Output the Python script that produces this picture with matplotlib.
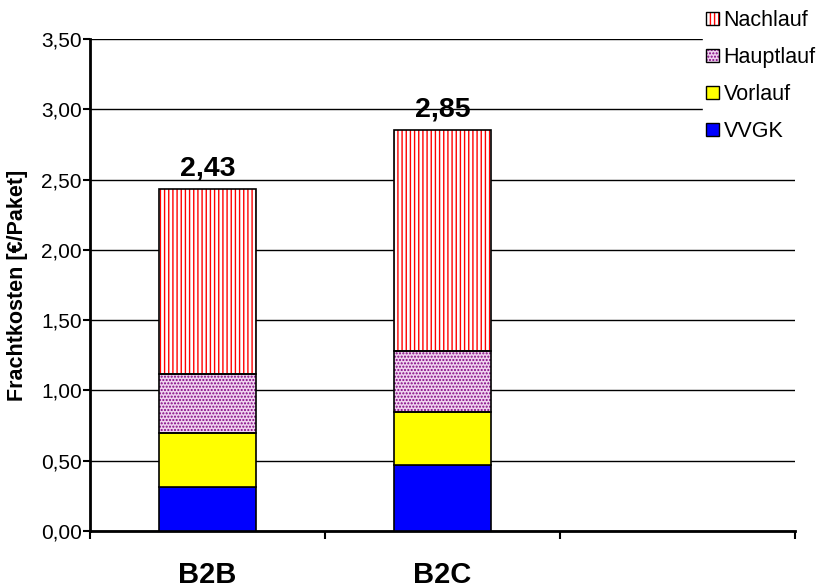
import matplotlib
matplotlib.use("Agg")
import matplotlib.pyplot as plt
from matplotlib.patches import Patch
from matplotlib.ticker import FuncFormatter, MultipleLocator

plt.rcParams['font.family'] = ['Liberation Sans', 'DejaVu Sans']
plt.rcParams['hatch.linewidth'] = 1.0

categories = ["B2B", "B2C", ""]
vvgk = [0.31, 0.47]
vorlauf = [0.39, 0.38]
hauptlauf = [0.42, 0.43]
nachlauf = [1.31, 1.57]
totals = [2.43, 2.85]

series = [
    ("VVGK", vvgk, dict(facecolor="#0000FF")),
    ("Vorlauf", vorlauf, dict(facecolor="#FFFF00")),
    ("Hauptlauf", hauptlauf, dict(facecolor="#EFD3EF", hatch=".....", hatchcol="#800080")),
    ("Nachlauf", nachlauf, dict(facecolor="white", hatch="||||", hatchcol="#FF0000")),
]

fig = plt.figure(figsize=(8.2, 5.88), dpi=100)
ax = fig.add_axes([90 / 820, 57 / 588, 705 / 820, 492 / 588])

x = list(range(len(totals)))
width = 0.41
bottom = [0.0] * len(totals)
handles = []
for name, vals, st in series:
    if "hatch" in st:
        ax.bar(x, vals, width, bottom=bottom, facecolor=st["facecolor"],
               edgecolor=st["hatchcol"], hatch=st["hatch"], linewidth=0, zorder=3)
        ax.bar(x, vals, width, bottom=bottom, fill=False,
               edgecolor="black", linewidth=1.2, zorder=4)
        h = (Patch(facecolor=st["facecolor"], edgecolor=st["hatchcol"],
                   hatch=st["hatch"], linewidth=0),
             Patch(fill=False, edgecolor="black", linewidth=1.0))
    else:
        ax.bar(x, vals, width, bottom=bottom, color=st["facecolor"],
               edgecolor="black", linewidth=1.2, zorder=4)
        h = Patch(facecolor=st["facecolor"], edgecolor="black", linewidth=1.0)
    handles.append((h, name))
    bottom = [b + v for b, v in zip(bottom, vals)]

for xi, t in zip(x, totals):
    ax.text(xi, t + 0.1, f"{t:.2f}".replace(".", ","), ha="center", va="baseline",
            fontsize=20.5, fontweight="bold", zorder=5)

ax.set_xlim(-0.5, 2.5)
ax.set_ylim(0, 3.5)
ax.yaxis.set_major_locator(MultipleLocator(0.5))
ax.yaxis.set_major_formatter(FuncFormatter(lambda v, p: f"{v:.2f}".replace(".", ",")))
ax.set_xticks([-0.5, 0.5, 1.5, 2.5])
ax.set_xticklabels([])
for xi, c in zip(x, categories):
    ax.text(xi, -0.37, c, ha="center", va="baseline", fontsize=21, fontweight="bold")
ax.grid(axis="y", color="black", linewidth=1.0, zorder=0)
ax.set_axisbelow(True)
for s in ("top", "right"):
    ax.spines[s].set_visible(False)
ax.spines["left"].set_linewidth(2.0)
ax.spines["bottom"].set_linewidth(2.0)
ax.tick_params(axis="y", direction="out", length=5, width=1.5, labelsize=15, pad=1)
ax.tick_params(axis="x", direction="out", length=6, width=1.5)
ax.set_ylabel("Frachtkosten [€/Paket]", fontsize=15.5, fontweight="bold")
ax.yaxis.set_label_coords(-62 / 705, 0.5)

hs = [h for h, n in handles][::-1]
ns = [n for h, n in handles][::-1]
leg = fig.legend(hs, ns, loc="upper left", bbox_to_anchor=(703 / 820, 1 - 7 / 588),
                 frameon=True, fontsize=15.5, handlelength=0.6, handleheight=0.6,
                 handletextpad=0.2, labelspacing=0.74, borderaxespad=0, borderpad=0.15)
leg.get_frame().set_edgecolor("white")
leg.get_frame().set_facecolor("white")
leg.get_frame().set_alpha(1)
leg.set_zorder(10)

fig.savefig("out.png", dpi=100, facecolor="white")
